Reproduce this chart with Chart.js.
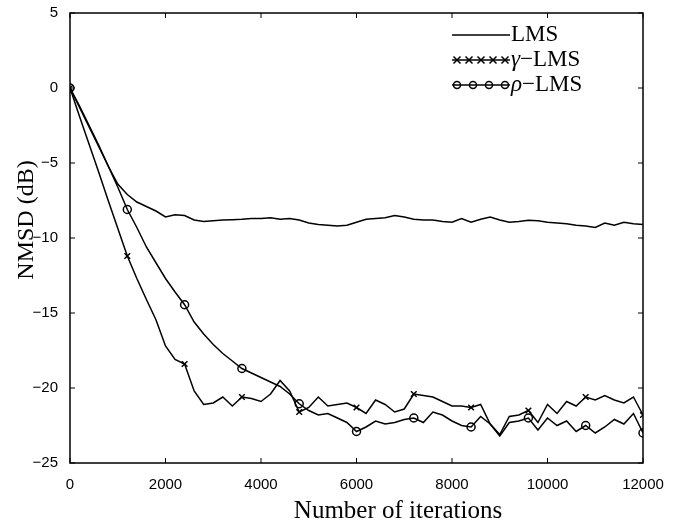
<!DOCTYPE html>
<html>
<head>
<meta charset="utf-8">
<title>NMSD</title>
<script src="https://cdn.jsdelivr.net/npm/chart.js@4.4.0/dist/chart.umd.min.js"></script>
<style>
  html, body { margin: 0; padding: 0; background: #fff; }
  #wrap { width: 678px; height: 523px; }
</style>
</head>
<body>
<div id="wrap"><canvas id="myChart" width="678" height="523"></canvas></div>
<script>
// iterations, every 200
var iterations = [0, 200, 400, 600, 800, 1000, 1200, 1400, 1600, 1800, 2000, 2200, 2400, 2600, 2800, 3000,
    3200, 3400, 3600, 3800, 4000, 4200, 4400, 4600, 4800, 5000, 5200, 5400, 5600, 5800, 6000,
    6200, 6400, 6600, 6800, 7000, 7200, 7400, 7600, 7800, 8000, 8200, 8400, 8600, 8800, 9000,
    9200, 9400, 9600, 9800, 10000, 10200, 10400, 10600, 10800, 11000, 11200, 11400, 11600, 11800, 12000];

var lms = [0, -1.3, -2.6, -3.9, -5.2, -6.4, -7.1, -7.6, -7.9, -8.2, -8.6, -8.45, -8.5, -8.8, -8.9, -8.85,
    -8.8, -8.78, -8.75, -8.7, -8.7, -8.65, -8.75, -8.7, -8.8, -9.0, -9.1, -9.15, -9.2, -9.15, -8.95,
    -8.75, -8.7, -8.65, -8.5, -8.6, -8.75, -8.8, -8.8, -8.9, -8.95, -8.7, -8.95, -8.75, -8.6, -8.8,
    -8.95, -8.9, -8.82, -8.85, -8.95, -9.0, -9.05, -9.15, -9.2, -9.3, -9.0, -9.15, -8.95, -9.05, -9.1];

var gammaLms = [0, -1.9, -3.75, -5.6, -7.5, -9.35, -11.2, -12.7, -14.1, -15.45, -17.2, -18.1, -18.4, -20.2, -21.1, -21.0,
    -20.6, -21.2, -20.6, -20.7, -20.9, -20.4, -19.5, -20.2, -21.6, -21.3, -20.6, -21.2, -21.1, -21.0, -21.3,
    -21.7, -20.8, -21.1, -21.6, -21.4, -20.4, -20.5, -20.6, -20.9, -21.2, -21.2, -21.3, -21.1, -22.4, -23.1,
    -21.9, -21.8, -21.5, -22.3, -21.1, -21.7, -20.9, -21.2, -20.6, -20.8, -20.5, -20.8, -21.0, -20.6, -21.8];

var rhoLms = [0, -1.2, -2.5, -3.8, -5.2, -6.6, -8.1, -9.3, -10.6, -11.65, -12.7, -13.6, -14.45, -15.6, -16.4, -17.1,
    -17.7, -18.2, -18.7, -19.0, -19.3, -19.6, -19.9, -20.4, -21.05, -21.5, -21.8, -21.7, -22.0, -22.3, -22.9,
    -22.6, -22.2, -22.4, -22.3, -22.1, -22.0, -22.3, -21.6, -21.8, -22.2, -22.5, -22.6, -21.9, -22.4, -23.2,
    -22.3, -22.2, -22.0, -22.8, -22.0, -22.5, -22.2, -22.9, -22.5, -23.0, -22.6, -22.1, -22.4, -21.7, -23.0];

var xTicks = [0, 2000, 4000, 6000, 8000, 10000, 12000];
var yTicks = [5, 0, -5, -10, -15, -20, -25];
var seriesNames = ['LMS', 'γ−LMS', 'ρ−LMS'];
var xTitle = 'Number of iterations';
var yTitle = 'NMSD (dB)';

function toPoints(values) {
    return iterations.map(function (it, i) { return { x: it, y: values[i] }; });
}

function markerRadius(ctx) {
    return ctx.dataIndex % 6 === 0 ? 4 : 0;
}

var sansFont = { family: '"Liberation Sans", Arial, sans-serif', size: 15 };
var serifFamily = '"Liberation Serif", "Times New Roman", serif';

// inside ticks, box, axis titles and the legend (matlab look)
var matlabFrame = {
    id: 'matlabFrame',
    afterDraw: function (chart) {
        var ctx = chart.ctx;
        var a = chart.chartArea;
        var xs = chart.scales.x, ys = chart.scales.y;
        ctx.save();
        ctx.strokeStyle = '#000';
        ctx.lineWidth = 1.5;
        ctx.strokeRect(a.left, a.top, a.right - a.left, a.bottom - a.top);
        ctx.lineWidth = 1;
        ctx.beginPath();
        xTicks.forEach(function (v) {
            var px = xs.getPixelForValue(v);
            ctx.moveTo(px, a.bottom); ctx.lineTo(px, a.bottom - 5);
            ctx.moveTo(px, a.top); ctx.lineTo(px, a.top + 5);
        });
        yTicks.forEach(function (v) {
            var py = ys.getPixelForValue(v);
            ctx.moveTo(a.left, py); ctx.lineTo(a.left + 5, py);
            ctx.moveTo(a.right, py); ctx.lineTo(a.right - 5, py);
        });
        ctx.stroke();

        // axis titles
        ctx.fillStyle = '#000';
        ctx.font = '25px ' + serifFamily;
        ctx.textAlign = 'center';
        ctx.textBaseline = 'alphabetic';
        ctx.fillText(xTitle, 398, 518);
        ctx.save();
        ctx.translate(33, 220);
        ctx.rotate(-Math.PI / 2);
        ctx.font = '24px ' + serifFamily;
        ctx.fillText(yTitle, 0, 0);
        ctx.restore();

        // legend
        var x0 = 452, x1 = 510;
        var rows = [35, 60, 85];
        ctx.lineWidth = 1.5;
        rows.forEach(function (ry, i) {
            ctx.beginPath();
            ctx.moveTo(x0, ry); ctx.lineTo(x1, ry);
            ctx.stroke();
            var n = i === 1 ? 5 : (i === 2 ? 4 : 0);
            for (var k = 0; k < n; k++) {
                var mx = x0 + 5 + k * ((x1 - x0 - 10) / (n - 1));
                ctx.beginPath();
                if (i === 1) {
                    ctx.moveTo(mx - 3.5, ry - 3.5); ctx.lineTo(mx + 3.5, ry + 3.5);
                    ctx.moveTo(mx - 3.5, ry + 3.5); ctx.lineTo(mx + 3.5, ry - 3.5);
                } else {
                    ctx.arc(mx, ry, 3.5, 0, Math.PI * 2);
                }
                ctx.stroke();
            }
            ctx.textBaseline = 'middle';
            ctx.textAlign = 'left';
            var tx = x1 + 1;
            if (i > 0) {
                ctx.font = 'italic 23px ' + serifFamily;
                var sym = seriesNames[i].charAt(0);
                ctx.fillText(sym, tx, ry);
                tx += ctx.measureText(sym).width;
                ctx.font = '23px ' + serifFamily;
                ctx.fillText(seriesNames[i].slice(1), tx, ry);
            } else {
                ctx.font = '23px ' + serifFamily;
                ctx.fillText(seriesNames[i], tx, ry);
            }
        });
        ctx.restore();
    }
};

var ctx = document.getElementById('myChart').getContext('2d');
var myChart = new Chart(ctx, {
    type: 'line',
    data: {
        datasets: [{
            label: seriesNames[0],
            data: toPoints(lms),
            borderColor: '#000',
            borderWidth: 1.5,
            pointRadius: 0,
            fill: false
        }, {
            label: seriesNames[1],
            data: toPoints(gammaLms),
            borderColor: '#000',
            borderWidth: 1.5,
            pointStyle: 'crossRot',
            pointRadius: markerRadius,
            pointBorderColor: '#000',
            pointBorderWidth: 1.5,
            fill: false
        }, {
            label: seriesNames[2],
            data: toPoints(rhoLms),
            borderColor: '#000',
            borderWidth: 1.5,
            pointStyle: 'circle',
            pointRadius: markerRadius,
            pointBackgroundColor: 'rgba(0,0,0,0)',
            pointBorderColor: '#000',
            pointBorderWidth: 1.5,
            fill: false
        }]
    },
    options: {
        responsive: false,
        animation: false,
        events: [],
        layout: { padding: { top: 13, right: 35, left: 0, bottom: 0 } },
        plugins: {
            legend: { display: false },
            tooltip: { enabled: false }
        },
        scales: {
            x: {
                type: 'linear',
                min: 0,
                max: 12000,
                afterBuildTicks: function (scale) {
                    scale.ticks = xTicks.map(function (v) { return { value: v }; });
                },
                afterFit: function (scale) { scale.height = 60; },
                grid: { display: false },
                border: { display: false },
                ticks: {
                    color: '#000',
                    font: sansFont,
                    padding: 5,
                    maxRotation: 0,
                    callback: function (v) { return String(v); }
                }
            },
            y: {
                min: -25,
                max: 5,
                afterBuildTicks: function (scale) {
                    scale.ticks = yTicks.map(function (v) { return { value: v }; });
                },
                afterFit: function (scale) { scale.width = 70; },
                grid: { display: false },
                border: { display: false },
                ticks: {
                    color: '#000',
                    font: sansFont,
                    padding: 4,
                    callback: function (v) { return v < 0 ? '\u2212' + Math.abs(v) : String(v); }
                }
            }
        }
    },
    plugins: [matlabFrame]
});
</script>
</body>
</html>
